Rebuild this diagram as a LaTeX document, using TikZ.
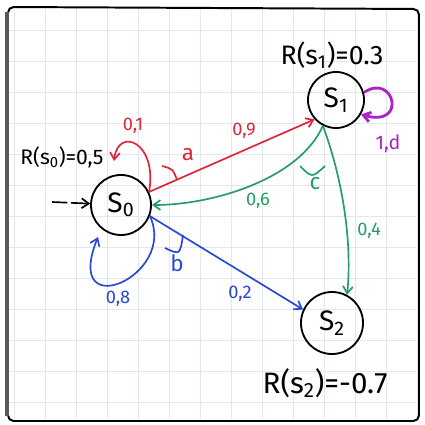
\documentclass[tikz,border=0pt]{standalone}
\usepackage{fontspec}
\setmainfont{Fira Sans}
\usepackage{tikz}
\usetikzlibrary{arrows.meta, positioning, calc}
\definecolor{inkred}{RGB}{222,38,58}
\definecolor{inkgreen}{RGB}{36,158,98}
\definecolor{inkblue}{RGB}{42,72,212}
\definecolor{inkpurple}{RGB}{172,34,198}
\definecolor{paper}{RGB}{226,232,242}

\begin{document}
\begin{tikzpicture}[x=0.025cm, y=-0.025cm, >={Straight Barb[length=5pt,width=7pt]},
  state/.style={draw, circle, line width=1.3pt, inner sep=0pt, font=\fontsize{20}{24}\selectfont},
  prob/.style={font=\fontsize{13}{15}\selectfont},
  act/.style={font=\fontsize{16}{18}\selectfont},
  reward/.style={font=\fontsize{19}{22}\selectfont},
  pen/.style={line width=1.2pt}]
  \useasboundingbox (0,0) rectangle (424,425);
  \foreach \g in {14,45,...,417} { \draw[paper, line width=0.6pt] (\g,9) -- (\g,419); }
  \foreach \g in {30,61,...,418} { \draw[paper, line width=0.6pt] (9,\g) -- (417,\g); }
  \draw[line width=1.4pt, rounded corners=4] (8,421) -- (8,7) -- (419,9) -- (419,421) -- cycle;
  \draw[line width=2.4pt, gray!70!black] (7,12) -- (7,416);

  \node[state, minimum size=1.5cm] (s0) at (121,205) {S\textsubscript{0}};
  \node[state, minimum size=1.4cm] (s1) at (336,100) {S\textsubscript{1}};
  \node[state, minimum size=1.55cm] (s2) at (332,323) {S\textsubscript{2}};

  \node[reward, font=\fontsize{15}{18}\selectfont] (r0) at (62,157) {R(s\textsubscript{0})=0,5};
  \node[reward] (r1) at (332,55) {R(s\textsubscript{1})=0.3};
  \node[reward, font=\fontsize{21}{24}\selectfont] (r2) at (325,383) {R(s\textsubscript{2})=-0.7};

  \coordinate (start) at (52,202);
  \draw[pen, ->, dash pattern=on 11pt off 2.5pt] (start) -- (s0);

  \draw[pen, inkred, ->] (s0.25) -- (s1.222);
  \coordinate (l0) at (114,161);
  \draw[pen, inkred, ->] (s0.25) .. controls (158,142) and (118,126) .. (l0);
  \draw[pen, inkred] (162,166) .. controls (173,169) .. (177,180);
  \node[prob, inkred] (p09) at (244,131) {0,9};
  \node[prob, inkred] (p01) at (133,126) {0,1};
  \node[act, inkred] (la) at (188,155) {a};

  \draw[pen, inkgreen, ->] (s1.243) .. controls (300,178) and (215,205) .. (s0.east);
  \draw[pen, inkgreen, ->] (s1.243) .. controls (345,185) and (352,250) .. (s2.62);
  \draw[pen, inkgreen] (300,166) .. controls (312,178) .. (325,166);
  \node[prob, inkgreen] (p06) at (258,201) {0,6};
  \node[prob, inkgreen] (p04) at (369,231) {0,4};
  \node[act, inkgreen] (lc) at (315,184) {c};

  \draw[inkpurple, line width=2pt, ->] (s1.15) .. controls (394,72) and (408,128) .. (s1.-30);
  \node[act, inkpurple, font=\fontsize{14}{16}\selectfont] (p10) at (388,144) {1,d};

  \draw[pen, inkblue, ->] (s0.-21) -- (s2.155);
  \coordinate (l1) at (98,237);
  \draw[pen, inkblue, ->] (s0.-21) .. controls (178,276) and (62,326) .. (l1);
  \draw[pen, inkblue] (165,248) .. controls (180,255) .. (183,235);
  \node[prob, inkblue] (p08) at (118,299) {0,8};
  \node[prob, inkblue] (p02) at (240,294) {0,2};
  \node[act, inkblue] (lb) at (177,263) {b};
\end{tikzpicture}
\end{document}
